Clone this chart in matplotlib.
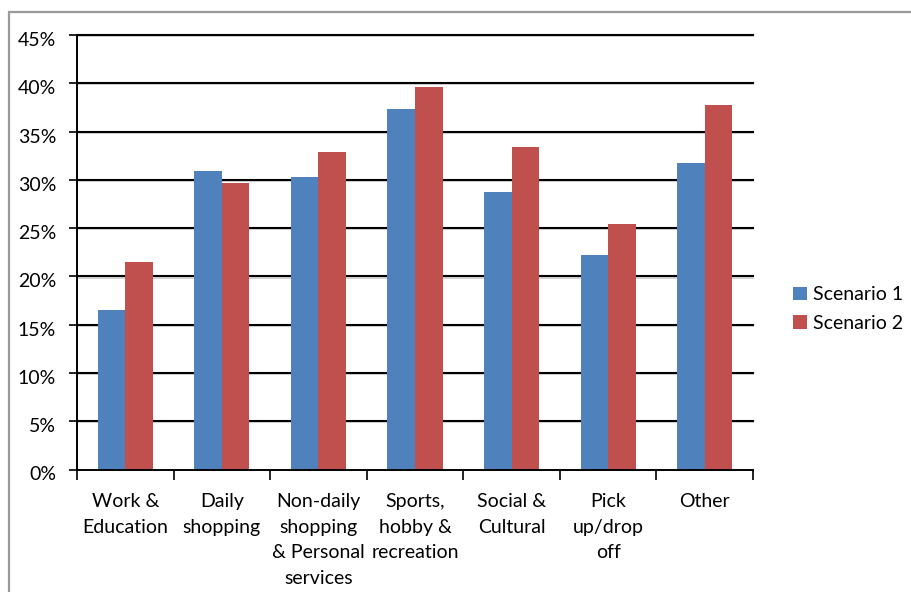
import matplotlib
matplotlib.use("Agg")
import matplotlib.pyplot as plt
import matplotlib.transforms as mtransforms
from matplotlib.patches import Rectangle, Patch
import numpy as np

plt.rcParams['font.family'] = ['Lato', 'DejaVu Sans']

categories = ["Work &\nEducation", "Daily\nshopping", "Non-daily\nshopping\n& Personal\nservices",
              "Sports,\nhobby &\nrecreation", "Social &\nCultural", "Pick\nup/drop\noff", "Other"]
scenario1 = [16.5, 30.9, 30.3, 37.3, 28.7, 22.2, 31.7]
scenario2 = [21.5, 29.7, 32.9, 39.6, 33.4, 25.4, 37.8]
series_names = ["Scenario 1", "Scenario 2"]
yticks = [0, 5, 10, 15, 20, 25, 30, 35, 40, 45]
ytick_labels = ["0%", "5%", "10%", "15%", "20%", "25%", "30%", "35%", "40%", "45%"]

W, H = 912, 592
fig = plt.figure(figsize=(W/100, H/100), dpi=100)
fig.patch.set_facecolor("white")

# outer chart frame
fig.patches.append(Rectangle((9/W, -0.05), 1.0, 1 - 12/H + 0.05, transform=fig.transFigure,
                             fill=False, edgecolor="#9a9a9a", linewidth=1.6))

ax = fig.add_axes([77/W, 1 - 469.5/H, (753-77)/W, (469.5-35)/H])
x = np.arange(len(categories))
bw = 0.285
blue = "#4F81BD"
red = "#C0504D"
ax.bar(x - bw/2, scenario1, width=bw, color=blue, zorder=3, label=series_names[0])
ax.bar(x + bw/2, scenario2, width=bw, color=red, zorder=3, label=series_names[1])

ax.set_xlim(-0.5, len(categories) - 0.5)
ax.set_ylim(0, 45)
ax.set_yticks(yticks)
ax.set_yticklabels(ytick_labels)
for yv in yticks[1:]:
    ax.plot([-0.5, len(categories) - 0.5], [yv - 0.12, yv - 0.12], color="#d0d0d0",
            linewidth=1.3, zorder=1, clip_on=False)
    ax.plot([-0.5, len(categories) - 0.5], [yv, yv], color="black", linewidth=1.5, zorder=2,
            clip_on=False)

ax.set_xticks(x)
ax.set_xticklabels(categories, fontsize=14, linespacing=1.62, va="top")
ax.set_xticks(np.arange(-0.5, len(categories)), minor=True)
ax.tick_params(axis="x", which="major", length=0, pad=17)
ax.tick_params(axis="x", which="minor", length=7, width=1.2, direction="out", color="black")
ax.tick_params(axis="y", length=6, width=1.2, direction="out", labelsize=14, pad=9)

offset = mtransforms.ScaledTranslation(0, -4/100, fig.dpi_scale_trans)
for lab in ax.get_yticklabels():
    lab.set_transform(lab.get_transform() + offset)

for s in ["top", "right"]:
    ax.spines[s].set_visible(False)
ax.spines["left"].set_linewidth(1.4)
ax.spines["bottom"].set_linewidth(1.4)
ax.spines["left"].set_zorder(4)
ax.spines["bottom"].set_zorder(4)

handles = [Patch(facecolor=blue), Patch(facecolor=red)]
leg = fig.legend(handles, series_names, loc="center left", bbox_to_anchor=(776/W, 1 - 309/H),
                 frameon=False, fontsize=14, handlelength=0.7, handleheight=0.7,
                 handletextpad=0.3, labelspacing=0.6)

fig.savefig("out.png", dpi=100)
